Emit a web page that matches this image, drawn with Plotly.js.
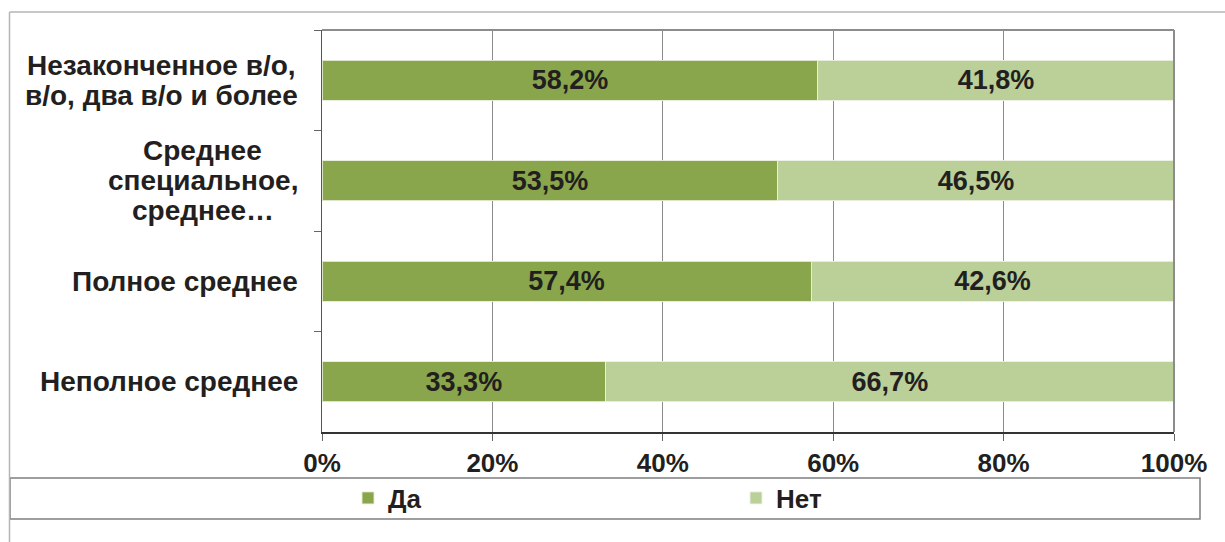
<!DOCTYPE html>
<html>
<head>
<meta charset="utf-8">
<script src="https://cdn.plot.ly/plotly-3.0.1.min.js"></script>
<style>html,body{margin:0;padding:0;background:#fff;}#chart{width:1225px;height:542px;}</style>
</head>
<body>
<div id="chart"></div>
<script>
// Categories listed top to bottom
var categories = ["Незаконченное в/о, в/о, два в/о и более", "Среднее специальное, среднее…", "Полное среднее", "Неполное среднее"];
var categoryLabelLines = [["Незаконченное в/о,", "в/о, два в/о и более"], ["Среднее", "специальное,", "среднее…"], ["Полное среднее"], ["Неполное среднее"]];
var yesValues = [58.2, 53.5, 57.4, 33.3];
var noValues = [41.8, 46.5, 42.6, 66.7];
var seriesNames = ["Да", "Нет"];
var xTickValues = [0, 20, 40, 60, 80, 100];
var xTickLabels = ["0%", "20%", "40%", "60%", "80%", "100%"];

var FONT = "Liberation Sans, Arial, Helvetica, sans-serif";
var TXT = "#231f20";
function px2x(p){ return (p - 322) / 852; }
function px2y(p){ return (432 - p) / 402; }

var traces = [
  {type:"bar", orientation:"h", name:seriesNames[0], y:categories, x:yesValues,
   marker:{color:"#8aa64c", line:{color:"rgba(230,236,215,0.9)", width:1}},
   width:0.4, texttemplate:"%{x:.1f}%", textposition:"inside", insidetextanchor:"middle",
   textangle:0, constraintext:"none",
   textfont:{family:FONT, size:27, color:TXT, weight:700}, legend:"legend", hoverinfo:"none"},
  {type:"bar", orientation:"h", name:seriesNames[1], y:categories, x:noValues,
   marker:{color:"#bbcf99", line:{color:"rgba(235,240,225,0.9)", width:1}},
   width:0.4, texttemplate:"%{x:.1f}%", textposition:"inside", insidetextanchor:"middle",
   textangle:0, constraintext:"none",
   textfont:{family:FONT, size:27, color:TXT, weight:700}, legend:"legend2", hoverinfo:"none"}
];

// Category labels: one annotation per line, centred, with tight line spacing
var LINE_H = 30;
var annotations = [];
categories.forEach(function(c, i){
  var lines = categoryLabelLines[i];
  var mid = (lines.length - 1) / 2;
  lines.forEach(function(t, j){
    annotations.push({x:0, xref:"paper", y:c, yref:"y", xanchor:"center", yanchor:"middle",
      xshift:-124, yshift:(mid - j) * LINE_H,
      text:t, showarrow:false, align:"center",
      font:{family:FONT, size:28, color:TXT, weight:700}});
  });
});

var legendFont = {family:FONT, size:26, color:TXT, weight:700};

var layout = {
  width:1225, height:542,
  margin:{l:322, r:51, t:30, b:110},
  paper_bgcolor:"#fff", plot_bgcolor:"#fff",
  barmode:"stack", bargap:0.6,
  separators:", ",
  showlegend:true,
  font:{family:FONT, color:TXT},
  xaxis:{range:[0,100], tickmode:"array", tickvals:xTickValues, ticktext:xTickLabels,
    showgrid:true, gridcolor:"#8c8c8c", gridwidth:1,
    showline:true, linecolor:"#333", linewidth:2,
    ticks:"outside", ticklen:7, tickcolor:"#666", tickwidth:1,
    tickfont:{family:FONT, size:26, color:TXT, weight:700}, zeroline:false, fixedrange:true},
  yaxis:{type:"category", range:[3.5,-0.5], showticklabels:false,
    tickson:"boundaries", ticks:"outside", ticklen:7, tickcolor:"#666", tickwidth:1,
    showgrid:false, showline:true, linecolor:"#555", linewidth:1.5, zeroline:false, fixedrange:true},
  legend:{x:px2x(348), xanchor:"left", y:px2y(498), yanchor:"middle", orientation:"h",
    font:legendFont, bgcolor:"rgba(0,0,0,0)", borderwidth:0},
  legend2:{x:px2x(736), xanchor:"left", y:px2y(498), yanchor:"middle", orientation:"h",
    font:legendFont, bgcolor:"rgba(0,0,0,0)", borderwidth:0},
  annotations:annotations,
  shapes:[
    // plot area top and right border
    {type:"line", xref:"paper", yref:"paper", x0:0, x1:1, y0:1, y1:1, line:{color:"#8c8c8c", width:2}},
    {type:"line", xref:"paper", yref:"paper", x0:1, x1:1, y0:0, y1:1, line:{color:"#8c8c8c", width:2}},
    // outer chart border
    {type:"line", xref:"paper", yref:"paper", x0:px2x(9.5), x1:px2x(1240), y0:px2y(12), y1:px2y(12), line:{color:"#b5b5b5", width:1.5}},
    {type:"line", xref:"paper", yref:"paper", x0:px2x(9.5), x1:px2x(9.5), y0:px2y(12), y1:px2y(560), line:{color:"#b5b5b5", width:1.5}},
    // legend box
    {type:"rect", xref:"paper", yref:"paper", x0:px2x(10), x1:px2x(1200), y0:px2y(519), y1:px2y(478), line:{color:"#7f7f7f", width:1.5}, fillcolor:"rgba(0,0,0,0)", layer:"below"}
  ]
};

Plotly.newPlot("chart", traces, layout, {staticPlot:true, displayModeBar:false}).then(function(){
  // right-align each label block while keeping lines centred within it
  var gd = document.getElementById("chart");
  var groups = {};
  var k = 0;
  categories.forEach(function(c, i){
    groups[i] = [];
    categoryLabelLines[i].forEach(function(){ groups[i].push(k++); });
  });
  var nodes = gd.querySelectorAll(".annotation");
  var upd = {};
  Object.keys(groups).forEach(function(g){
    var maxW = 0;
    groups[g].forEach(function(idx){
      var t = nodes[idx].querySelector("text");
      var w = t.getBBox().width;
      if (w > maxW) maxW = w;
    });
    groups[g].forEach(function(idx){
      upd["annotations[" + idx + "].xshift"] = -24 - maxW / 2;
    });
  });
  Plotly.relayout(gd, upd);
});
</script>
</body>
</html>
